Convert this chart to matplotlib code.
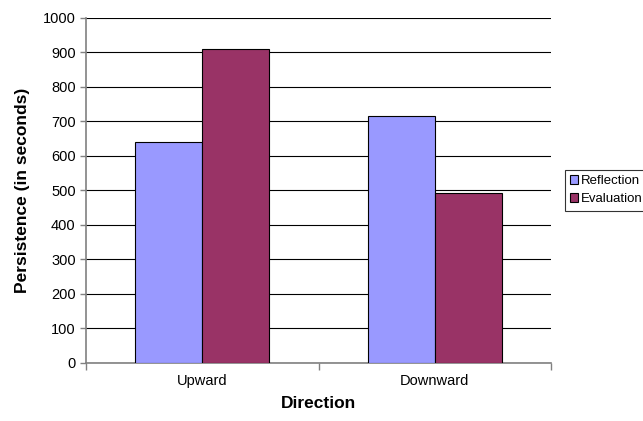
import numpy as np
import matplotlib
matplotlib.use("Agg")
import matplotlib.pyplot as plt

plt.rcParams['font.family'] = ['Liberation Sans', 'DejaVu Sans']

# data
directions = ['Upward', 'Downward']
reflection = [639, 715]
evaluation = [909, 493]
yticks = list(range(0, 1001, 100))

fig = plt.figure(figsize=(6.43, 4.21), dpi=100)
ax = fig.add_axes([0.134, 0.138, 0.723, 0.82])

x = np.arange(len(directions))
w = 0.288
ax.bar(x - w / 2, reflection, w, color='#9999FF', edgecolor='black', linewidth=0.8,
       label='Reflection', zorder=3)
ax.bar(x + w / 2, evaluation, w, color='#993366', edgecolor='black', linewidth=0.8,
       label='Evaluation', zorder=3)

ax.set_xlim(-0.5, 1.5)
ax.set_ylim(0, 1000)
ax.set_yticks(yticks)
ax.tick_params(axis='y', labelsize=10.5, length=4, color='#808080', width=1)
ax.yaxis.grid(True, color='black', linewidth=0.8, zorder=0)
ax.set_axisbelow(True)

# category labels centered, ticks at the boundaries
ax.set_xticks([-0.5, 0.5, 1.5])
ax.set_xticklabels([])
ax.set_xticks(x, minor=True)
ax.set_xticklabels(directions, minor=True, fontsize=10.5)
ax.tick_params(axis='x', which='major', length=5, color='#808080', width=1)
ax.tick_params(axis='x', which='minor', length=0, pad=8)

for s in ['top', 'right']:
    ax.spines[s].set_visible(False)
for s in ['left', 'bottom']:
    ax.spines[s].set_color('#808080')
    ax.spines[s].set_linewidth(1.2)

ax.set_ylabel('Persistence (in seconds)', fontsize=12.5, fontweight='bold', labelpad=9)
ax.set_xlabel('Direction', fontsize=12.5, fontweight='bold', labelpad=6)

leg = ax.legend(loc='center left', bbox_to_anchor=(1.03, 0.5), fontsize=9.5,
                frameon=True, fancybox=False, edgecolor='black', handlelength=0.6,
                handleheight=0.6, handletextpad=0.2, borderpad=0.4, labelspacing=0.45,
                borderaxespad=0)
leg.get_frame().set_linewidth(0.8)

fig.savefig('out.png', dpi=100)
